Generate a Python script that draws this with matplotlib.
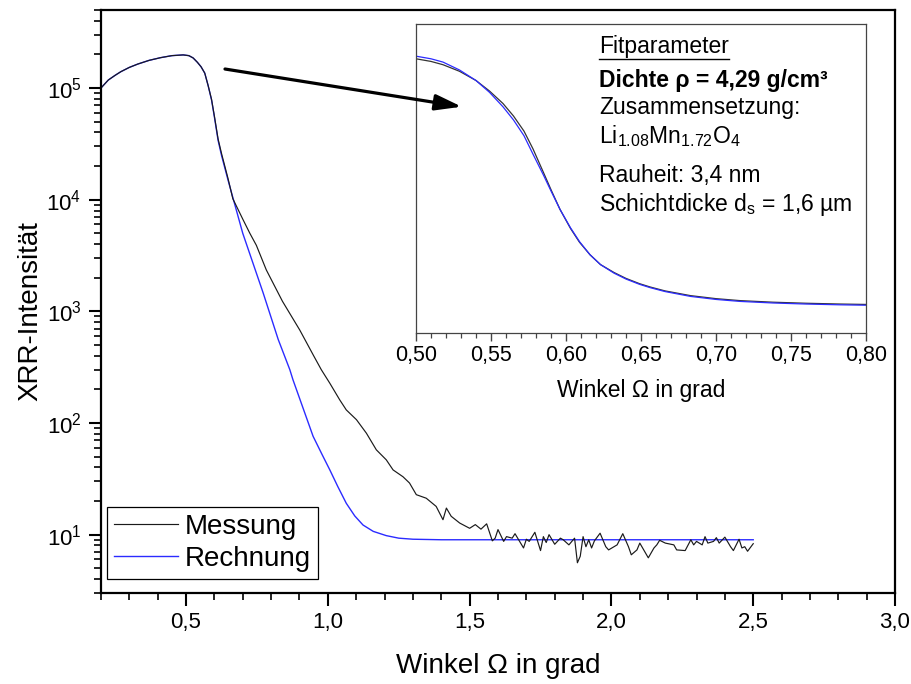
import matplotlib
matplotlib.use("Agg")
import matplotlib.pyplot as plt
from matplotlib.ticker import MultipleLocator, FuncFormatter, LogLocator, NullFormatter
from matplotlib.patches import FancyArrowPatch
from matplotlib.lines import Line2D

plt.rcParams['font.family'] = ['Liberation Sans', 'DejaVu Sans']
plt.rcParams['mathtext.fontset'] = 'custom'
plt.rcParams['mathtext.rm'] = 'Liberation Sans'
plt.rcParams['mathtext.it'] = 'Liberation Sans:italic'
plt.rcParams['mathtext.bf'] = 'Liberation Sans:bold'

# ---------------- data (main plot) ----------------
rech_x = [0.20, 0.226, 0.25, 0.27, 0.30, 0.33, 0.37, 0.41, 0.45, 0.49, 0.51, 0.525,
          0.54, 0.553, 0.566, 0.578, 0.59, 0.60, 0.613, 0.625, 0.648, 0.70, 0.772,
          0.825, 0.866, 0.877, 0.948, 0.98, 1.007, 1.035, 1.065, 1.095, 1.124, 1.16,
          1.206, 1.25, 1.30, 1.40, 1.50, 2.00, 2.50]
rech_y = [1.0e5, 1.18e5, 1.30e5, 1.40e5, 1.53e5, 1.64e5, 1.77e5, 1.87e5, 1.95e5,
          1.98e5, 1.95e5, 1.86e5, 1.70e5, 1.55e5, 1.36e5, 1.05e5, 7.8e4, 5.5e4,
          3.4e4, 2.5e4, 1.5e4, 5.0e3, 1.46e3, 5.6e2, 3.0e2, 2.44e2, 76, 52, 38, 27,
          19.1, 14.7, 12.2, 10.7, 9.8, 9.3, 9.1, 9.0, 9.0, 9.0, 9.0]

mess_x = [0.20, 0.226, 0.25, 0.27, 0.30, 0.33, 0.37, 0.41, 0.45, 0.49, 0.51, 0.525,
          0.54, 0.553, 0.566, 0.578, 0.59, 0.60, 0.613, 0.625, 0.648, 0.665, 0.70, 0.725,
          0.748, 0.783, 0.84, 0.901, 0.95, 0.977, 1.007,
          1.042, 1.065, 1.101, 1.136, 1.171, 1.206, 1.230, 1.265, 1.288, 1.312, 1.347,
          1.382, 1.406, 1.418, 1.435, 1.465,
          1.50, 1.52, 1.54, 1.56, 1.58, 1.59, 1.60, 1.62, 1.63, 1.65, 1.66, 1.69, 1.70,
          1.71, 1.73, 1.75, 1.76, 1.77, 1.78, 1.80, 1.82, 1.83, 1.85, 1.87, 1.88, 1.89,
          1.90, 1.91, 1.92, 1.93, 1.94, 1.96, 1.98, 1.99, 2.02, 2.04, 2.06, 2.07, 2.09,
          2.10, 2.13, 2.15, 2.16, 2.17, 2.19, 2.22, 2.23, 2.26, 2.28, 2.29, 2.30, 2.32,
          2.33, 2.34, 2.36, 2.37, 2.38, 2.40, 2.42, 2.43, 2.45, 2.46, 2.47, 2.48, 2.50]
mess_y = [1.0e5, 1.18e5, 1.30e5, 1.40e5, 1.53e5, 1.64e5, 1.77e5, 1.87e5, 1.95e5,
          1.98e5, 1.95e5, 1.86e5, 1.70e5, 1.55e5, 1.36e5, 1.05e5, 7.9e4, 5.6e4,
          3.5e4, 2.6e4, 1.55e4, 1.02e4, 6.7e3, 5.0e3, 3.9e3, 2.35e3, 1.23e3, 6.8e2,
          4.0e2, 3.0e2, 2.27e2,
          161, 131, 107, 81, 57.5, 46.8, 38, 33, 29, 22.8, 21.2,
          17.9, 13.6, 17.3, 14.6, 12.7,
          11.4, 12.3, 11.2, 12.5, 8.8, 9.3, 11.1, 8.7, 9.6, 9.3, 10.2, 7.6, 9.1,
          8.7, 10.5, 7.2, 9.6, 8.5, 10.0, 8.2, 9.3, 9.0, 8.1, 9.3, 5.6, 6.4,
          9.6, 7.8, 9.0, 7.6, 8.8, 10.3, 7.8, 7.3, 8.1, 10.2, 7.8, 6.6, 7.3,
          8.4, 6.2, 7.6, 8.1, 8.9, 8.4, 8.1, 7.3, 7.2, 9.0, 8.1, 8.7, 8.1,
          9.6, 8.4, 8.7, 9.4, 8.4, 9.5, 7.8, 7.2, 9.1, 7.6, 7.8, 7.1, 8.3]

# ---------------- data (inset, linear intensity) ----------------
ins_x = [0.500, 0.510, 0.518, 0.529, 0.540, 0.549, 0.558, 0.565, 0.572, 0.578, 0.585,
         0.590, 0.596, 0.603, 0.609, 0.616, 0.623, 0.632, 0.640, 0.649, 0.656, 0.666,
         0.683, 0.700, 0.716, 0.738, 0.760, 0.783, 0.800]
ins_mess = [1.885e5, 1.865e5, 1.84e5, 1.79e5, 1.72e5, 1.64e5, 1.545e5, 1.45e5, 1.335e5,
            1.20e5, 1.02e5, 8.9e4, 7.4e4, 5.95e4, 4.9e4, 3.95e4, 3.2e4, 2.6e4, 2.15e4,
            1.75e4, 1.5e4, 1.2e4, 8.4e3, 6.1e3, 4.6e3, 3.4e3, 2.6e3, 2.0e3, 1.7e3]
ins_rech = [1.905e5, 1.885e5, 1.86e5, 1.80e5, 1.72e5, 1.63e5, 1.52e5, 1.42e5, 1.30e5,
            1.16e5, 1.00e5, 8.8e4, 7.4e4, 6.0e4, 4.95e4, 3.95e4, 3.2e4, 2.55e4, 2.1e4,
            1.7e4, 1.45e4, 1.15e4, 7.8e3, 5.5e3, 4.0e3, 2.8e3, 2.0e3, 1.4e3, 1.1e3]

series_labels = ['Messung', 'Rechnung']
fit_lines = ['Fitparameter', 'Dichte \u03c1 = 4,29 g/cm\u00b3', 'Zusammensetzung:',
             'Li$_{1.08}$Mn$_{1.72}$O$_{4}$', 'Rauheit: 3,4 nm',
             'Schichtdicke d$_{\\mathrm{s}}$ = 1,6 \u00b5m']

BLUE = '#2b2bff'
BLACK = '#1a1a1a'

fig = plt.figure(figsize=(9.12, 6.84), dpi=100)
fig.patch.set_facecolor('white')

# ---------------- main axes ----------------
ax = fig.add_axes([0.1107, 0.1330, 0.8707, 0.8524])
l_rech, = ax.plot(rech_x, rech_y, color=BLUE, lw=1.0)
l_mess, = ax.plot(mess_x, mess_y, color=BLACK, lw=0.85)
ax.set_yscale('log')
ax.set_xlim(0.2, 3.0)
ax.set_ylim(3, 5e5)
ax.xaxis.set_major_locator(MultipleLocator(0.5))
ax.xaxis.set_minor_locator(MultipleLocator(0.1))
ax.xaxis.set_major_formatter(FuncFormatter(lambda v, p: f"{v:.1f}".replace('.', ',')))
ax.yaxis.set_major_locator(LogLocator(base=10, numticks=12))
ax.yaxis.set_minor_locator(LogLocator(base=10, subs=range(2, 10), numticks=12))
ax.yaxis.set_minor_formatter(NullFormatter())
ax.tick_params(which='major', direction='out', length=9, width=1.5, labelsize=16,
               pad=5, top=False, right=False)
ax.tick_params(which='minor', direction='out', length=5, width=1.2, top=False, right=False)
for s in ax.spines.values():
    s.set_linewidth(1.6)

ax.set_xlabel('Winkel \u03a9 in grad', fontsize=20)
ax.xaxis.set_label_coords(0.5, -0.103)
ax.set_ylabel('XRR-Intensit\u00e4t', fontsize=20)
ax.yaxis.set_label_coords(-0.073, 0.484)

leg = ax.legend([l_mess, l_rech], series_labels, loc='lower left',
                bbox_to_anchor=(0.0076, 0.024), borderaxespad=0, fontsize=20,
                frameon=True, fancybox=False, edgecolor='black', framealpha=1,
                borderpad=0.25, labelspacing=0.22, handlelength=2.3, handletextpad=0.25)
leg.get_frame().set_linewidth(0.9)

# ---------------- inset ----------------
ax2 = fig.add_axes([0.4561, 0.5132, 0.4935, 0.4518])
ax2.plot(ins_x, ins_mess, color='#333333', lw=0.9)
ax2.plot(ins_x, ins_rech, color=BLUE, lw=0.9)
ax2.set_xlim(0.5, 0.8)
ax2.set_ylim(-2.0e4, 2.15e5)
ax2.set_yticks([])
ax2.xaxis.set_major_locator(MultipleLocator(0.05))
ax2.xaxis.set_minor_locator(MultipleLocator(0.01))
ax2.xaxis.set_major_formatter(FuncFormatter(lambda v, p: f"{v:.2f}".replace('.', ',')))
ax2.tick_params(which='major', direction='out', length=6, width=1.0, labelsize=15.5,
                pad=3, color='#444444')
ax2.tick_params(which='minor', direction='out', length=3.5, width=0.9, color='#444444')
for s in ax2.spines.values():
    s.set_linewidth(0.9)
    s.set_color('#444444')
ax2.set_xlabel('Winkel \u03a9 in grad', fontsize=16.5)
ax2.xaxis.set_label_coords(0.5, -0.15)

# fit parameter text block
tx = 0.4067
ys = [0.906, 0.796, 0.707, 0.615, 0.490, 0.396]
texts = []
for i, (line, yy) in enumerate(zip(fit_lines, ys)):
    t = ax2.text(tx, yy, line, transform=ax2.transAxes, fontsize=16.5,
                 fontweight='bold' if i == 1 else 'normal', va='baseline', ha='left')
    texts.append(t)

# underline "Fitparameter"
fig.canvas.draw()
bb = texts[0].get_window_extent()
inv = ax2.transAxes.inverted()
(x0, _), (x1, _) = inv.transform([(bb.x0, bb.y0), (bb.x1, bb.y0)])
ax2.add_line(Line2D([x0, x1], [0.888, 0.888], transform=ax2.transAxes,
                    color='black', lw=1.0))

# arrow from main curve to inset
arr = FancyArrowPatch((0.2467, 0.8991), (0.5063, 0.8440), transform=fig.transFigure,
                      arrowstyle='-|>,head_length=0.8,head_width=0.24',
                      mutation_scale=20, lw=2.3, color='black',
                      shrinkA=0, shrinkB=0, zorder=10)
fig.add_artist(arr)

fig.savefig('out.png', dpi=100, facecolor='white')
